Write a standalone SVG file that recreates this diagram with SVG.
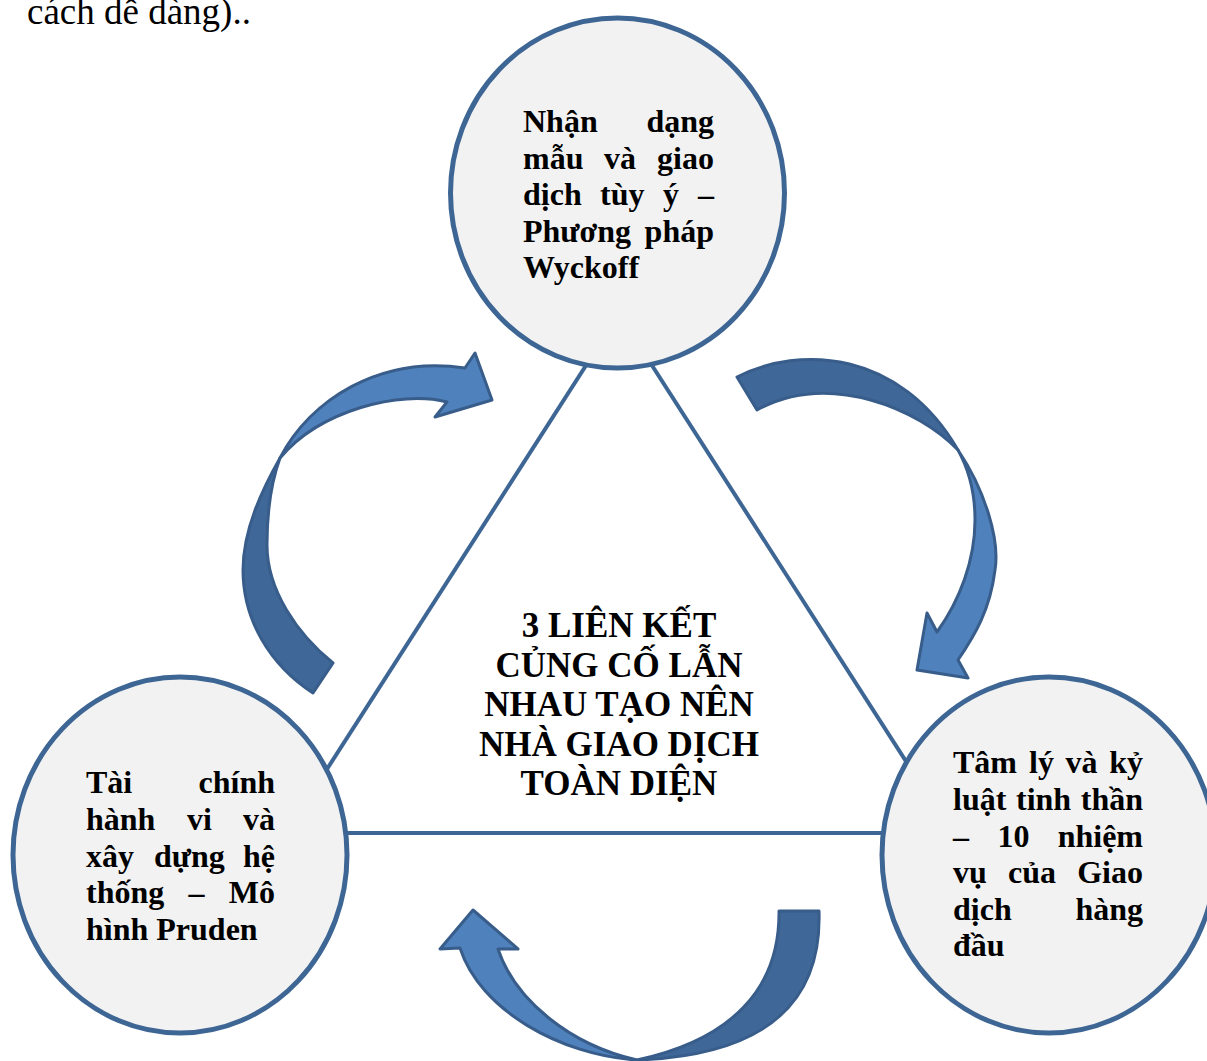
<svg xmlns="http://www.w3.org/2000/svg" width="1207" height="1061" viewBox="0 0 1207 1061">
<style>
.node{fill:#f2f2f2;stroke:#3e6694;stroke-width:5}
.edge{stroke:#3e6694;stroke-width:4;fill:none}
.lt{fill:#4f81bd;stroke:#385d8a;stroke-width:3;stroke-linejoin:round}
.dk{fill:#3f6797;stroke:#385d8a;stroke-width:3;stroke-linejoin:round}
.t{font-family:"Liberation Serif","Times New Roman",serif;font-weight:bold;font-size:32px;fill:#000}
.c{font-family:"Liberation Serif","Times New Roman",serif;font-weight:bold;font-size:35px;fill:#000;text-anchor:middle}
.e{text-anchor:end}
.top{font-family:"Liberation Serif","Times New Roman",serif;font-size:37px;fill:#000}
</style>
<rect width="1207" height="1061" fill="#fff"/>
<text class="top" x="27" y="24">cách dễ dàng)..</text>
<g id="connectors">
  <line class="edge" x1="619" y1="314" x2="286" y2="833"/>
  <line class="edge" x1="619" y1="314" x2="952" y2="833"/>
  <line class="edge" x1="286" y1="833" x2="952" y2="833"/>
  <g id="arrow-left">
    <path class="dk" d="M280,458 C262,490 243,530 243,570 C243,620 270,665 313,693 L333,663 C297,634 267,590 267,545 C267,510 272,480 280,458 Z"/>
    <path class="lt" d="M280,458 C310,400 380,355 465,368 L475,353 L492,400 L435,417 L447,402 C400,390 320,410 280,458 Z"/>
  </g>
  <g id="arrow-right">
    <path class="dk" d="M737,377 C800,345 900,350 958,450 C920,410 830,370 757,410 Z"/>
    <path class="lt" d="M958,450 C985,490 1000,540 995,570 C990,610 975,635 958,660 L968,678 L917,670 L927,613 L937,632 C960,600 975,560 975,520 C975,490 968,468 958,450 Z"/>
  </g>
  <g id="arrow-bottom">
    <path class="dk" d="M779,911 L819,911 C822,1000 770,1055 637,1060 C730,1040 780,990 779,911 Z"/>
    <path class="lt" d="M637,1060 C560,1055 480,1010 460,948 L440,949 L473,910 L518,949 L498,949 C515,1000 570,1045 637,1060 Z"/>
  </g>
</g>
<g id="node-top">
  <ellipse class="node" cx="617.5" cy="193" rx="167" ry="175"/>
  <text class="t" y="132"><tspan x="523">Nhận</tspan><tspan x="714" class="e">dạng</tspan></text>
  <text class="t" y="168.5"><tspan x="523">mẫu</tspan><tspan x="604">và</tspan><tspan x="714" class="e">giao</tspan></text>
  <text class="t" y="205"><tspan x="523">dịch</tspan><tspan x="600">tùy</tspan><tspan x="663">ý</tspan><tspan x="714" class="e">–</tspan></text>
  <text class="t" y="241.5"><tspan x="523">Phương</tspan><tspan x="714" class="e">pháp</tspan></text>
  <text class="t" x="523" y="278">Wyckoff</text>
</g>
<g id="node-left">
  <ellipse class="node" cx="180" cy="855" rx="167" ry="178"/>
  <text class="t" y="793"><tspan x="86">Tài</tspan><tspan x="275" class="e">chính</tspan></text>
  <text class="t" y="830"><tspan x="86">hành</tspan><tspan x="187">vi</tspan><tspan x="275" class="e">và</tspan></text>
  <text class="t" y="866.5"><tspan x="86">xây</tspan><tspan x="154">dựng</tspan><tspan x="275" class="e">hệ</tspan></text>
  <text class="t" y="903"><tspan x="86">thống</tspan><tspan x="188.5">–</tspan><tspan x="275" class="e">Mô</tspan></text>
  <text class="t" x="86" y="940">hình Pruden</text>
</g>
<g id="node-right">
  <ellipse class="node" cx="1049" cy="855" rx="167" ry="178"/>
  <text class="t" y="773"><tspan x="953">Tâm</tspan><tspan x="1029">lý</tspan><tspan x="1065.5">và</tspan><tspan x="1143" class="e">kỷ</tspan></text>
  <text class="t" y="810"><tspan x="953">luật</tspan><tspan x="1016">tinh</tspan><tspan x="1143" class="e">thần</tspan></text>
  <text class="t" y="846.5"><tspan x="953">–</tspan><tspan x="997.5">10</tspan><tspan x="1143" class="e">nhiệm</tspan></text>
  <text class="t" y="883"><tspan x="953">vụ</tspan><tspan x="1008">của</tspan><tspan x="1143" class="e">Giao</tspan></text>
  <text class="t" y="920"><tspan x="953">dịch</tspan><tspan x="1143" class="e">hàng</tspan></text>
  <text class="t" x="953" y="956">đầu</text>
</g>
<g id="node-center">
  <text class="c" x="619" y="637">3 LIÊN KẾT</text>
  <text class="c" x="619" y="676.5">CỦNG CỐ LẪN</text>
  <text class="c" x="619" y="716">NHAU TẠO NÊN</text>
  <text class="c" x="619" y="755.5">NHÀ GIAO DỊCH</text>
  <text class="c" x="619" y="795">TOÀN DIỆN</text>
</g>
</svg>
